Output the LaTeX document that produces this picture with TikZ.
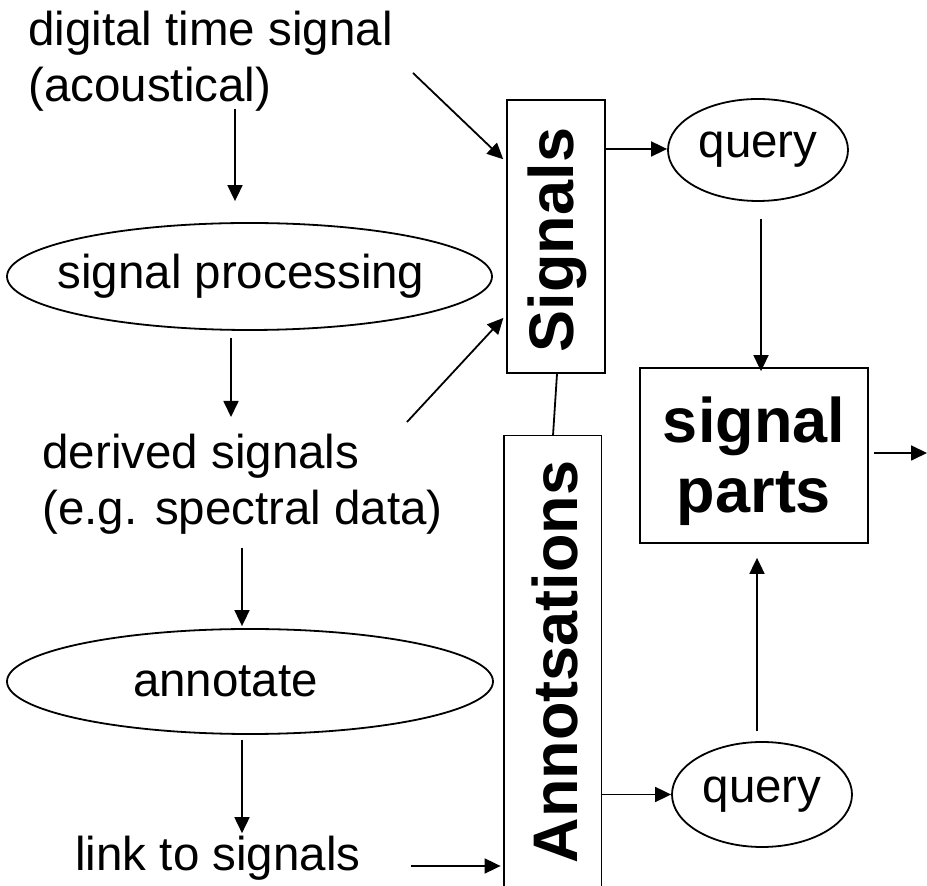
\documentclass[tikz,border=0pt]{standalone}
\usepackage{fontspec}
\setmainfont{Liberation Sans}
\usetikzlibrary{shapes.geometric,arrows.meta}
\begin{document}
\begin{tikzpicture}[x=0.5pt,y=-0.5pt,
  line/.style={line width=0.9pt},
  arr/.style={line width=0.9pt,-{Triangle[length=8pt,width=7.5pt]}},
  txt/.style={font=\fontsize{23.75}{28}\selectfont,inner sep=0pt,align=left},
  oval/.style={ellipse,draw,line width=0.9pt,inner sep=0pt,font=\fontsize{23.75}{28}\selectfont},
  rbox/.style={rectangle,draw,line width=0.9pt,inner sep=0pt},
  btxt/.style={font=\bfseries\fontsize{31.5}{35}\selectfont,inner sep=0pt},
]
\fill[white] (0,0) rectangle (927,886);
\useasboundingbox (0,0) rectangle (927,886);

% texts
\node[txt,anchor=north west] (dts) at (28,11) {digital time signal\\(acoustical)};
\node[txt,anchor=north west] (der) at (42,433.5) {derived signals\\(e.g. spectral data)};
\node[txt,anchor=base west] (link) at (75,871) {link to signals};

% ellipses
\node[oval,minimum width=242.5pt,minimum height=53.5pt] (sp) at (249.5,276.5) {\makebox[0pt]{signal processing\hspace*{8.5pt}}};
\node[oval,minimum width=243pt,minimum height=52.5pt] (ann) at (250,681.5) {\makebox[0pt]{annotate\hspace*{24.5pt}}};
\node[oval,minimum width=90pt,minimum height=51pt] (q1) at (758,150) {query};
\node[oval,minimum width=90pt,minimum height=52.5pt] (q2) at (762,794.5) {query};

% boxes
\node[rbox,minimum width=49pt,minimum height=136.5pt] (sig) at (556,236.5) {};
\node[btxt,rotate=90] (sigt) at (557,240) {Signals};
\node[inner sep=0pt,minimum width=48.5pt,minimum height=227.5pt] (anb) at (552.5,663.5) {};
\draw[line] (anb.south west) -- (anb.north west) -- (anb.north east) -- (anb.south east);
\node[btxt,rotate=90] (anbt) at (555,662) {Annotsations};
\node[rbox,minimum width=114pt,minimum height=87.5pt] (parts) at (754,455.5) {};
\node[btxt,align=center] (partst) at (754,461.5) {signal\\parts};

% free ends
\coordinate (a6s) at (413,73);
\coordinate (a7s) at (407,422);
\coordinate (out) at (927,453);

% connectors
\draw[arr,shorten <=-1.5pt,shorten >=10.5pt] ([xshift=-7.25pt]sp.north |- dts.south) -- ([xshift=-7.25pt]sp.north);
\draw[arr,shorten <=3.5pt,shorten >=8.25pt] ([xshift=-9.25pt]sp.south) -- ([xshift=-9.25pt]sp.south |- der.north);
\draw[arr,shorten <=6.5pt,shorten >=1pt] ([xshift=-4pt]ann.north |- der.south) -- ([xshift=-4pt]ann.north);
\draw[arr,shorten <=2.5pt,shorten >=1.5pt] ([xshift=-4pt]ann.south) -- ([xshift=-4pt]ann.south |- link.north);
\draw[arr,shorten <=25pt,shorten >=1.5pt] ([yshift=2.5pt]link.base east) -- ([yshift=2.5pt]link.base east -| anb.west);
\draw[arr,shorten >=2pt] (a6s) -- ([yshift=37.25pt]sig.west);
\draw[arr,shorten >=2pt] (a7s) -- ([yshift=-39.25pt]sig.west);
\draw[arr] ([yshift=43.75pt]sig.east) -- ([yshift=43.75pt]sig.east -| q1.west);
\draw[arr,shorten <=8.5pt,shorten >=-2pt] ([xshift=1.5pt]q1.south) -- ([xshift=1.5pt]q1.south |- parts.north);
\draw[arr,shorten <=2.5pt] (parts.east |- out) -- (out);
\draw[arr] (anb.east |- q2.west) -- (q2.west);
\draw[arr,shorten <=5pt,shorten >=7pt] ([xshift=-2.5pt]q2.north) -- ([xshift=-2.5pt]q2.north |- parts.south);
\draw[line] ([xshift=0.5pt]sig.south) -- ([xshift=0.25pt]anb.north);
\end{tikzpicture}
\end{document}
